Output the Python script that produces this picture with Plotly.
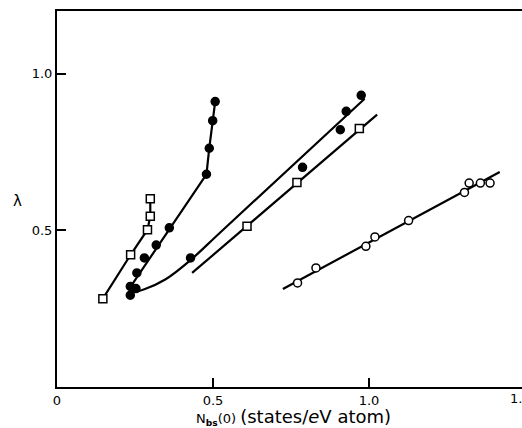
import plotly.graph_objects as go

# ---- data ----
# open squares, left steep series
sqA_x = [0.147, 0.236, 0.290, 0.299, 0.299]
sqA_y = [0.282, 0.422, 0.502, 0.545, 0.601]

# filled circles, steep series
dotB_x = [0.235, 0.235, 0.256, 0.280, 0.318, 0.360, 0.479, 0.488, 0.499, 0.507]
dotB_y = [0.293, 0.321, 0.364, 0.412, 0.453, 0.508, 0.679, 0.762, 0.850, 0.911]
lineB_x = [0.229, 0.479, 0.488, 0.499, 0.507]
lineB_y = [0.310, 0.679, 0.762, 0.850, 0.911]

# filled circles, curved series
dotC_x = [0.253, 0.428, 0.787, 0.908, 0.927, 0.975]
dotC_y = [0.314, 0.412, 0.701, 0.821, 0.880, 0.931]
lineC_x = [0.229, 0.236, 0.250, 0.280, 0.347, 0.428, 0.524, 0.986]
lineC_y = [0.318, 0.308, 0.305, 0.312, 0.343, 0.405, 0.494, 0.920]

# open squares, middle series
sqD_x = [0.609, 0.769, 0.969]
sqD_y = [0.513, 0.653, 0.825]
lineD_x = [0.433, 1.026]
lineD_y = [0.364, 0.869]

# open circles, right series
cE_x = [0.771, 0.830, 0.990, 1.019, 1.127, 1.306, 1.321, 1.357, 1.388]
cE_y = [0.332, 0.380, 0.449, 0.479, 0.531, 0.621, 0.651, 0.651, 0.651]
lineE_x = [0.724, 1.419]
lineE_y = [0.313, 0.686]

x_ticks = [0, 0.5, 1.0]
x_ticktext = ["0", "0.5", "1.0"]
y_ticks = [0.5, 1.0]
y_ticktext = ["0.5", "1.0"]

FONT = "DejaVu Sans"
LW = 2.2

fig = go.Figure()

def line(x, y, shape="linear"):
    fig.add_trace(go.Scatter(x=x, y=y, mode="lines",
                             line=dict(color="black", width=LW, shape=shape),
                             hoverinfo="skip", showlegend=False))

def marks(x, y, symbol, fill):
    fig.add_trace(go.Scatter(x=x, y=y, mode="markers",
                             marker=dict(symbol=symbol, size=8, color=fill,
                                         line=dict(color="black", width=1.5)),
                             showlegend=False))

line(sqA_x, sqA_y)
line(lineB_x, lineB_y)
line(lineC_x, lineC_y, "spline")
line(lineD_x, lineD_y)
line(lineE_x, lineE_y)

marks(sqA_x, sqA_y, "square", "white")
marks(dotB_x, dotB_y, "circle", "black")
marks(dotC_x, dotC_y, "circle", "black")
marks(sqD_x, sqD_y, "square", "white")
marks(cE_x, cE_y, "circle", "white")

L, T, B = 57, 11, 41
W, H = 522, 428
pw = W - L
ph = H - T - B
xmax = pw / 312.0


def px_x(px):
    return (px - L) / pw


def px_y(py):
    return (H - B - py) / ph


fig.update_layout(
    width=W, height=H,
    margin=dict(l=L, r=0, t=T, b=B, pad=0),
    plot_bgcolor="white", paper_bgcolor="white",
    font=dict(family=FONT, color="black", size=13),
    xaxis=dict(range=[0, xmax], showgrid=False, zeroline=False,
               showline=True, linecolor="black", linewidth=2, mirror=True,
               ticks="inside", ticklen=9, tickwidth=1.5, tickcolor="black",
               tickvals=x_ticks, ticktext=x_ticktext,
               tickfont=dict(family=FONT, size=13)),
    yaxis=dict(range=[0, 1.2], showgrid=False, zeroline=False,
               showline=True, linecolor="black", linewidth=2, mirror=False,
               ticks="inside", ticklen=9, tickwidth=1.5, tickcolor="black",
               tickvals=y_ticks, ticktext=y_ticktext,
               tickfont=dict(family=FONT, size=13)),
    annotations=[
        dict(text="λ", xref="paper", yref="paper",
             x=px_x(17), y=px_y(201), xanchor="center", yanchor="middle",
             showarrow=False, font=dict(family=FONT, size=15)),
        dict(text="1.5", xref="paper", yref="paper",
             x=px_x(508), y=px_y(398), xanchor="left", yanchor="middle",
             showarrow=False, font=dict(family=FONT, size=13)),
        dict(text="N<sub><b>bs</b></sub>(0) "
                  "<span style='font-size:18px'>(states/<i>e</i>V atom)</span>",
             xref="paper", yref="paper",
             x=px_x(194), y=px_y(416.5), xanchor="left", yanchor="middle",
             showarrow=False, font=dict(family=FONT, size=13)),
    ],
)

fig.write_html("out.html")
